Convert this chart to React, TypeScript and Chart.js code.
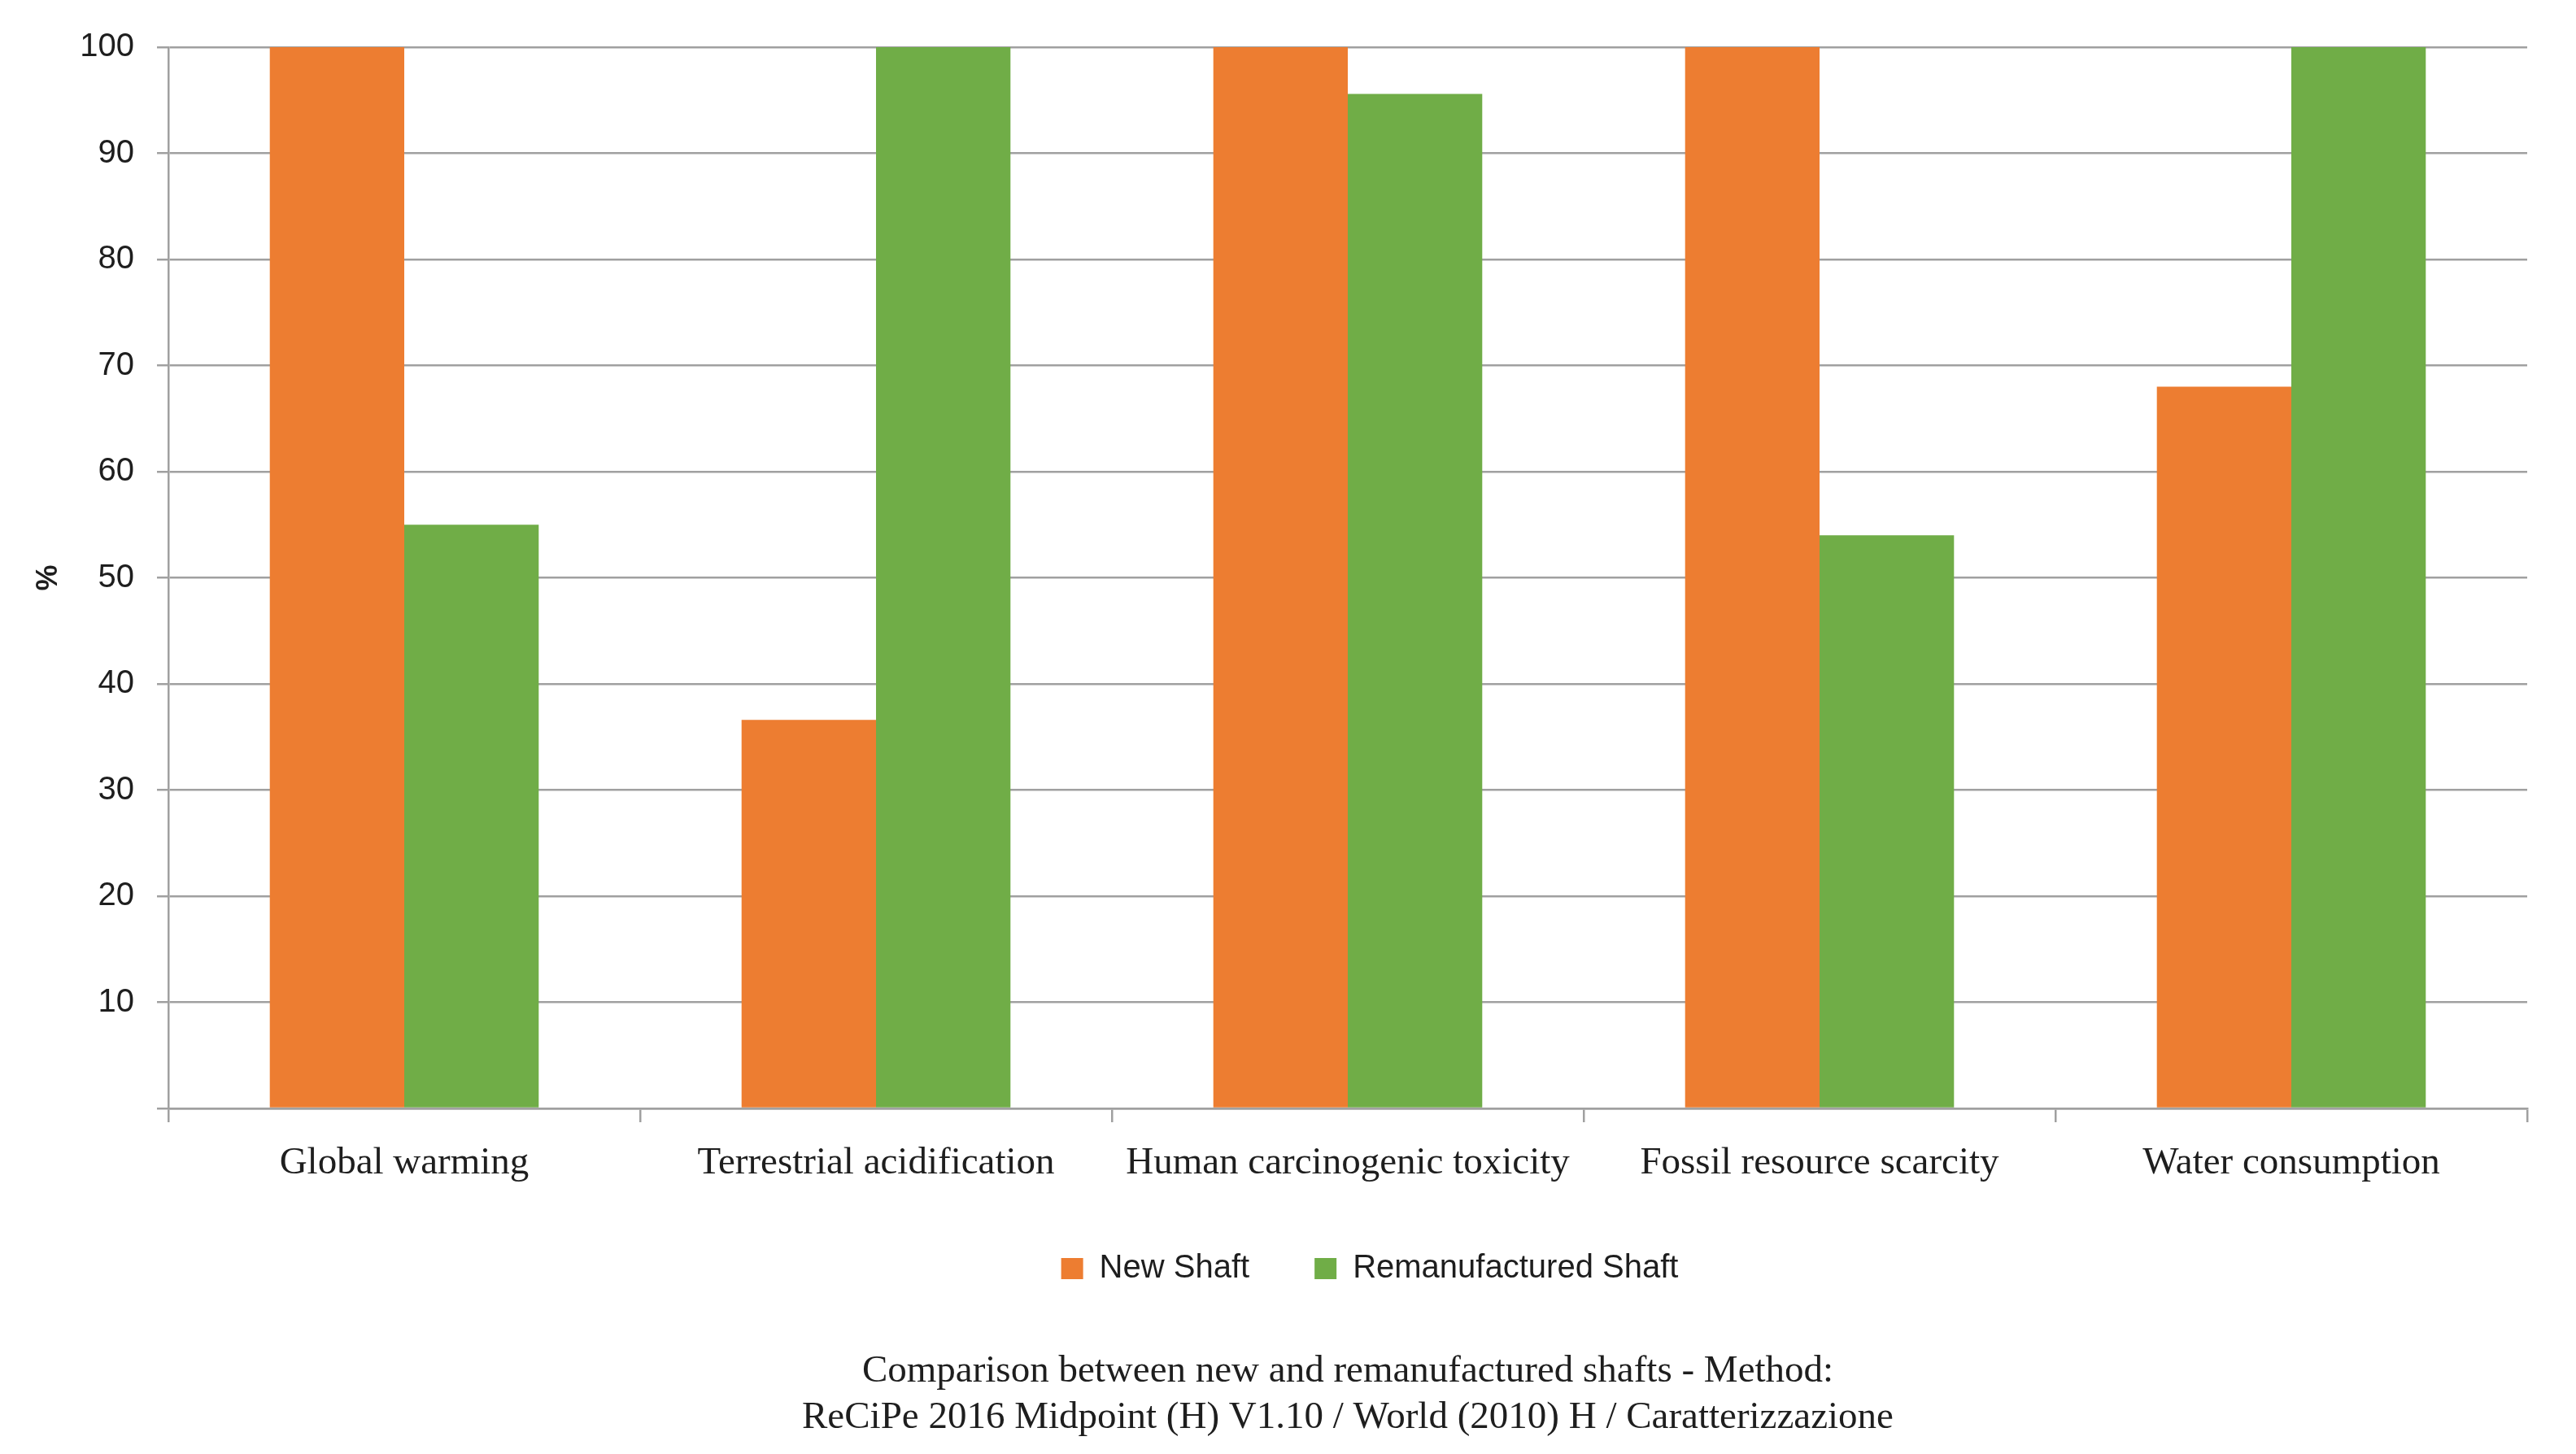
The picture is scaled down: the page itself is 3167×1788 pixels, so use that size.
import { useEffect, useRef } from "react"
import { Chart, registerables } from "chart.js"
import type { Plugin } from "chart.js"

Chart.register(...registerables)

const categories = [
  "Global warming",
  "Terrestrial acidification",
  "Human carcinogenic toxicity",
  "Fossil resource scarcity",
  "Water consumption",
]
const newShaft = [100, 36.6, 100, 100, 68]
const remanufacturedShaft = [55, 100, 95.6, 54, 100]
const seriesLabels = ["New Shaft", "Remanufactured Shaft"]
const yTicks = [0, 10, 20, 30, 40, 50, 60, 70, 80, 90, 100]
const captionLines = [
  "Comparison between new and remanufactured shafts - Method:",
  "ReCiPe 2016 Midpoint (H) V1.10 / World (2010) H / Caratterizzazione",
]

const GRID = "#a0a0a0"
const TEXT = "#1e1e1e"

// the legend in the original sits a little right of the plot centre
const nudgeLegend: Plugin<"bar"> = {
  id: "nudgeLegend",
  afterLayout(chart) {
    const legend = chart.legend
    if (!legend) return
    legend.left += 27
    legend.right += 27
  },
}

export default function App() {
  const chartRef = useRef<HTMLCanvasElement>(null)
  const chartInstance = useRef<Chart | null>(null)

  useEffect(() => {
    if (!chartRef.current) return
    if (chartInstance.current) chartInstance.current.destroy()
    const ctx = chartRef.current.getContext("2d")
    if (!ctx) return

    chartInstance.current = new Chart(ctx, {
      type: "bar",
      data: {
        labels: categories,
        datasets: [
          {
            label: seriesLabels[0],
            data: newShaft,
            backgroundColor: "#ED7D31",
            borderWidth: 0,
            barPercentage: 1,
            categoryPercentage: 0.57,
          },
          {
            label: seriesLabels[1],
            data: remanufacturedShaft,
            backgroundColor: "#70AD47",
            borderWidth: 0,
            barPercentage: 1,
            categoryPercentage: 0.57,
          },
        ],
      },
      plugins: [nudgeLegend],
      options: {
        animation: false,
        responsive: true,
        maintainAspectRatio: false,
        devicePixelRatio: 1,
        layout: {
          padding: { left: 0, right: 60, top: 58, bottom: 0 },
        },
        plugins: {
          tooltip: { enabled: false },
          legend: {
            position: "bottom",
            fullSize: false,
            labels: {
              boxWidth: 27,
              boxHeight: 26,
              padding: 80,
              color: TEXT,
              font: { family: "'Liberation Sans', Arial, sans-serif", size: 40 },
            },
          },
          title: {
            display: true,
            position: "bottom",
            fullSize: false,
            text: captionLines,
            color: TEXT,
            font: {
              family: "'Liberation Serif', 'Times New Roman', serif",
              size: 47,
              weight: "normal",
              lineHeight: 57 / 47,
            },
            padding: { top: 68, bottom: 16 },
          },
        },
        scales: {
          x: {
            offset: true,
            grid: {
              display: true,
              drawOnChartArea: false,
              drawTicks: true,
              tickLength: 17,
              color: GRID,
              lineWidth: 2.5,
            },
            border: { display: true, color: GRID, width: 2.5 },
            ticks: {
              color: TEXT,
              padding: 22,
              maxRotation: 0,
              autoSkip: false,
              font: { family: "'Liberation Serif', 'Times New Roman', serif", size: 47 },
            },
            afterFit: (scale) => {
              scale.height = 97
            },
          },
          y: {
            min: 0,
            max: 100,
            afterBuildTicks: (scale) => {
              scale.ticks = yTicks.map((v) => ({ value: v }))
            },
            grid: {
              color: GRID,
              lineWidth: 2.5,
              drawTicks: true,
              tickLength: 14,
            },
            border: { display: true, color: GRID, width: 2.5 },
            ticks: {
              color: TEXT,
              padding: 28,
              font: { family: "'Liberation Sans', Arial, sans-serif", size: 40 },
              callback: (value) => (value === 0 ? "" : String(value)),
            },
            title: {
              display: true,
              text: "%",
              color: TEXT,
              font: { family: "'Liberation Sans', Arial, sans-serif", size: 36, weight: "bold" },
              padding: { top: 38, bottom: 0 },
            },
            afterFit: (scale) => {
              scale.width = 207
            },
          },
        },
      },
    })

    return () => {
      if (chartInstance.current) {
        chartInstance.current.destroy()
        chartInstance.current = null
      }
    }
  }, [])

  return (
    <div
      style={{
        position: "absolute",
        left: 0,
        top: 0,
        width: "3167px",
        height: "1788px",
        background: "#ffffff",
      }}
    >
      <canvas ref={chartRef} aria-label="Comparison between new and remanufactured shafts"></canvas>
    </div>
  )
}
